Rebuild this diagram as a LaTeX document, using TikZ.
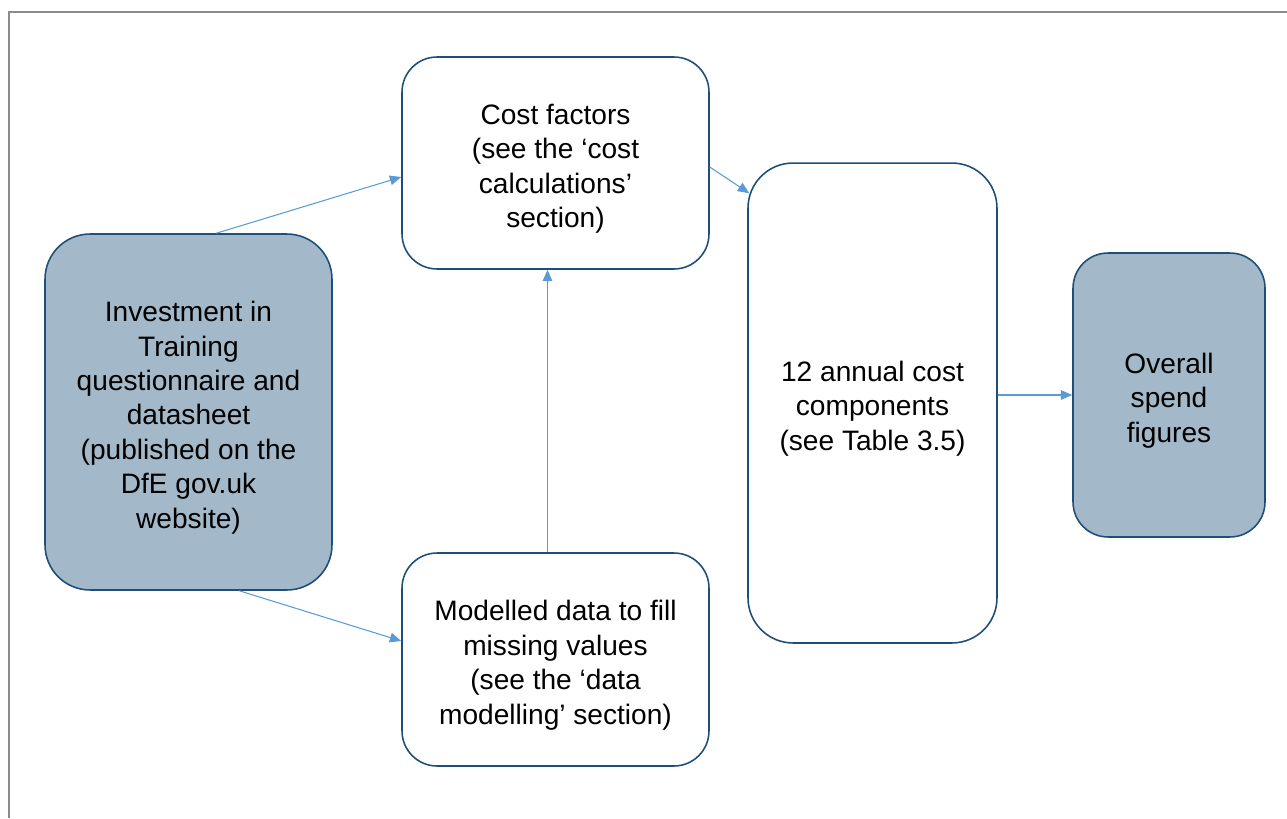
\documentclass[tikz,border=0pt]{standalone}
\usepackage{fontspec}
\setmainfont{Liberation Sans}
\usetikzlibrary{arrows.meta, calc}
\definecolor{boxedge}{HTML}{1F4E79}
\definecolor{boxfill}{HTML}{A3B9C9}
\definecolor{arrowblue}{HTML}{5B9BD5}
\definecolor{framegray}{HTML}{8C8C8C}
% extra height on the first line, pushes the text a little down in its box
\newcommand{\firstline}{\rule{0pt}{18pt}}

\begin{document}
\begin{tikzpicture}[x=0.02cm, y=-0.02cm,
    box/.style={draw=boxedge, line width=0.9pt, rounded corners=0.7cm, align=center,
        font=\fontsize{16}{19.6}\selectfont, inner sep=0pt},
    databox/.style={box, fill=boxfill},
    link/.style={draw=arrowblue, line width=0.6pt, -{Triangle[length=6.5pt, width=5.5pt]}}]
    \useasboundingbox (0,0) rectangle (1287,818);
    \draw[framegray, line width=1.2pt] (9,818) -- (9,12) -- (1287,12);

    \node[databox, rounded corners=0.9cm, minimum width=5.74cm, minimum height=7.12cm] (inv) at (188.5,412)
        {\firstline Investment in\\Training\\questionnaire and\\datasheet\\(published on the\\DfE gov.uk\\website)};
    \node[box, minimum width=6.14cm, minimum height=4.24cm] (cost) at (555.5,163)
        {\firstline Cost factors\\(see the ‘cost\\calculations’\\section)};
    \node[box, minimum width=6.14cm, minimum height=4.26cm] (model) at (555.5,659.5)
        {\firstline Modelled data to fill\\missing values\\(see the ‘data\\modelling’ section)};
    \node[box, rounded corners=0.9cm, minimum width=4.98cm, minimum height=9.6cm] (annual) at (872.5,403)
        {\firstline 12 annual cost\\components\\(see Table 3.5)};
    \node[databox, minimum width=3.84cm, minimum height=5.68cm] (overall) at (1169,395)
        {\firstline Overall\\spend\\figures};

    \draw[link] ($(inv.north west)+(172,0)$) -- ($(cost.west)+(0,14)$);
    \draw[link] ($(inv.south west)+(195,0)$) -- ($(model.west)+(0,-18.5)$);
    \draw[link] ($(model.north)+(-8,0)$) -- ($(cost.south)+(-8,0)$);
    \draw[link] ($(cost.east)+(0,4)$) -- ($(annual.north west)+(2,31)$);
    \draw[link] (annual.east |- overall.west) -- (overall.west);
\end{tikzpicture}
\end{document}
